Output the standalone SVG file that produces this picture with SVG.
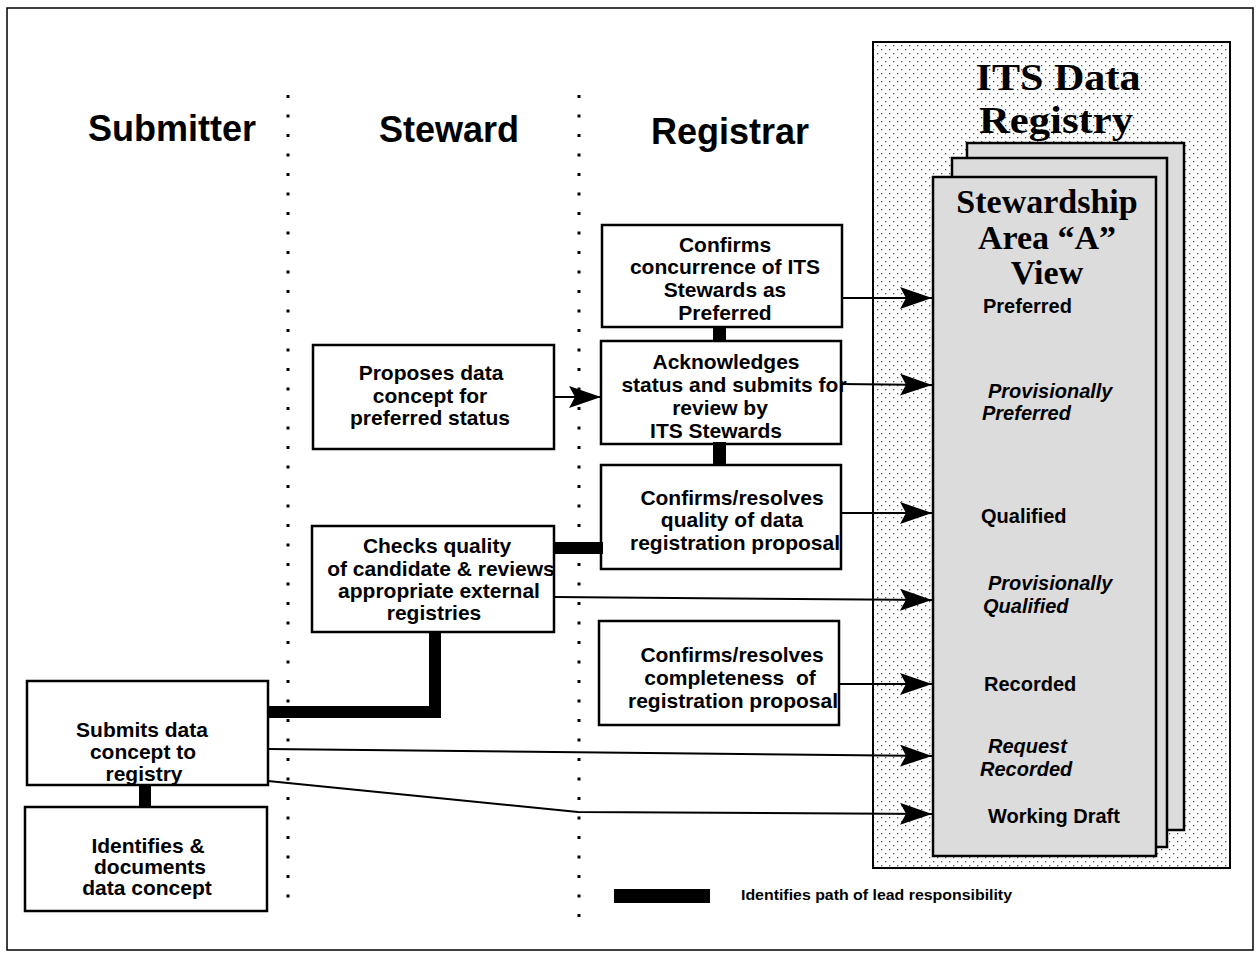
<svg xmlns="http://www.w3.org/2000/svg" width="1256" height="954" viewBox="0 0 1256 954">
<defs>
<pattern id="dots" width="8" height="8" patternUnits="userSpaceOnUse">
<rect width="8" height="8" fill="#ffffff"/>
<rect x="1" y="1" width="1.3" height="1.3" fill="#555"/>
<rect x="5" y="5" width="1.3" height="1.3" fill="#555"/>
</pattern>
<marker id="ah" markerUnits="userSpaceOnUse" markerWidth="32" markerHeight="22" refX="32" refY="11" orient="auto">
<path d="M0,0 L32,11 L0,22 L6,11 z" fill="#000"/>
</marker>
<style>
.box{fill:#fff;stroke:#000;stroke-width:2.5}
.bt{font-family:"Liberation Sans",Arial,sans-serif;font-weight:bold;font-size:21px;text-anchor:middle;fill:#000}
.title{font-family:"Liberation Sans",Arial,sans-serif;font-weight:bold;font-size:36px;text-anchor:middle;fill:#000}
.st{font-family:"Liberation Sans",Arial,sans-serif;font-weight:bold;font-size:20px;fill:#000}
.it{font-style:italic}
.serif{font-family:"Liberation Serif","Times New Roman",serif;font-weight:bold;text-anchor:middle;fill:#000}
.sep{stroke:#000;stroke-width:3;stroke-dasharray:3 16.5;fill:none}
.arr{stroke:#000;stroke-width:2;fill:none;marker-end:url(#ah)}
.bar{fill:#000}
.page{fill:#dcdcdc;stroke:#000;stroke-width:2.5}
</style>
</defs>
<rect x="0" y="0" width="1256" height="954" fill="#fff"/>
<rect x="7" y="8" width="1246" height="942" fill="none" stroke="#000" stroke-width="1.5"/>

<g id="headers">
<text class="title" x="172" y="141">Submitter</text>
<text class="title" x="449" y="142">Steward</text>
<text class="title" x="730" y="144">Registrar</text>
</g>

<g id="separators">
<line class="sep" x1="288" y1="95" x2="288" y2="910"/>
<line class="sep" x1="579" y1="95" x2="579" y2="920"/>
</g>

<g id="registry">
<rect x="873" y="42" width="357" height="826" fill="url(#dots)" stroke="#000" stroke-width="2"/>
<text class="serif" x="1058" y="90" font-size="38" textLength="165" lengthAdjust="spacingAndGlyphs">ITS Data</text>
<text class="serif" x="1056" y="133" font-size="38" textLength="154" lengthAdjust="spacingAndGlyphs">Registry</text>
<rect class="page" x="967" y="143" width="217" height="687"/>
<rect class="page" x="952" y="158" width="215" height="689"/>
<rect class="page" x="933" y="177" width="223" height="679" stroke-width="3"/>
<text class="serif" x="1047" y="213" font-size="34">Stewardship</text>
<text class="serif" x="1047" y="249" font-size="34">Area “A”</text>
<text class="serif" x="1047" y="284" font-size="34">View</text>
<text class="st" x="983" y="313">Preferred</text>
<text class="st it" x="988" y="398">Provisionally</text>
<text class="st it" x="982" y="420">Preferred</text>
<text class="st" x="981" y="523">Qualified</text>
<text class="st it" x="988" y="590">Provisionally</text>
<text class="st it" x="983" y="613">Qualified</text>
<text class="st" x="984" y="691">Recorded</text>
<text class="st it" x="988" y="753">Request</text>
<text class="st it" x="980" y="776">Recorded</text>
<text class="st" x="988" y="823">Working Draft</text>
</g>

<g id="connectors">
<rect class="bar" x="713" y="326" width="13" height="16"/>
<rect class="bar" x="713" y="442" width="13" height="24"/>
<rect class="bar" x="553" y="542" width="50" height="12"/>
<path class="bar" d="M429,631 L441,631 L441,718 L267,718 L267,706 L429,706 z"/>
<rect class="bar" x="139" y="784" width="12" height="24"/>
<line class="arr" x1="842" y1="298" x2="932" y2="298"/>
<line class="arr" x1="554" y1="397" x2="601" y2="397"/>
<line class="arr" x1="841" y1="384" x2="932" y2="385"/>
<line class="arr" x1="840" y1="513" x2="932" y2="513"/>
<line class="arr" x1="554" y1="597" x2="932" y2="600"/>
<line class="arr" x1="839" y1="684" x2="932" y2="684"/>
<line class="arr" x1="268" y1="749" x2="932" y2="756"/>
<path class="arr" d="M268,781 L578,812 L932,814"/>
</g>

<g id="confirms-concurrence">
<rect class="box" x="602" y="225" width="240" height="102"/>
<text class="bt" x="725" y="252">Confirms</text>
<text class="bt" x="725" y="274">concurrence of ITS</text>
<text class="bt" x="725" y="297">Stewards as</text>
<text class="bt" x="725" y="320">Preferred</text>
</g>

<g id="acknowledges">
<text class="bt" x="726" y="369">Acknowledges</text>
<text class="bt" x="734" y="392">status and submits for</text>
<text class="bt" x="720" y="415">review by</text>
<text class="bt" x="716" y="438">ITS Stewards</text>
<rect x="601" y="341" width="240" height="103" fill="none" stroke="#000" stroke-width="2.5"/>
</g>

<g id="confirms-quality">
<text class="bt" x="732" y="505">Confirms/resolves</text>
<text class="bt" x="732" y="527">quality of data</text>
<text class="bt" x="735" y="550">registration proposal</text>
<rect x="601" y="465" width="240" height="104" fill="none" stroke="#000" stroke-width="2.5"/>
</g>

<g id="confirms-completeness">
<text class="bt" x="732" y="662">Confirms/resolves</text>
<text class="bt" x="730" y="685" xml:space="preserve">completeness  of</text>
<text class="bt" x="733" y="708">registration proposal</text>
<rect x="599" y="621" width="240" height="104" fill="none" stroke="#000" stroke-width="2.5"/>
</g>

<g id="proposes">
<rect class="box" x="313" y="345" width="241" height="104"/>
<text class="bt" x="431" y="380">Proposes data</text>
<text class="bt" x="430" y="403">concept for</text>
<text class="bt" x="430" y="425">preferred status</text>
</g>

<g id="checks-quality">
<text class="bt" x="437" y="553">Checks quality</text>
<text class="bt" x="441" y="576">of candidate &amp; reviews</text>
<text class="bt" x="439" y="598">appropriate external</text>
<text class="bt" x="434" y="620">registries</text>
<rect x="312" y="526" width="242" height="106" fill="none" stroke="#000" stroke-width="2.5"/>
</g>

<g id="submits">
<rect class="box" x="27" y="681" width="241" height="104"/>
<text class="bt" x="142" y="737">Submits data</text>
<text class="bt" x="143" y="759">concept to</text>
<text class="bt" x="144" y="781">registry</text>
</g>

<g id="identifies">
<rect class="box" x="25" y="807" width="242" height="104"/>
<text class="bt" x="148" y="853">Identifies &amp;</text>
<text class="bt" x="150" y="874">documents</text>
<text class="bt" x="147" y="895">data concept</text>
</g>

<g id="legend">
<rect class="bar" x="614" y="889" width="96" height="14"/>
<text x="741" y="900" font-family="Liberation Sans, Arial, sans-serif" font-weight="bold" font-size="15" textLength="271" lengthAdjust="spacingAndGlyphs">Identifies path of lead responsibility</text>
</g>
</svg>
